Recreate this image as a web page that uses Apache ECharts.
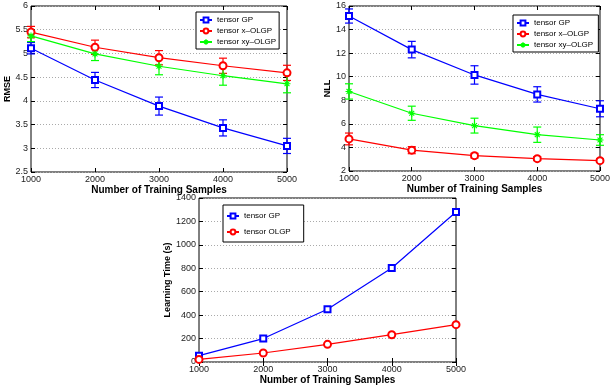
<!DOCTYPE html>
<html><head><meta charset="utf-8">
<script src="https://cdn.jsdelivr.net/npm/echarts@6/dist/echarts.min.js"></script>
<style>html,body{margin:0;padding:0;background:#fff}#c{width:613px;height:388px}</style>
</head><body><div id="c"></div><script>
const samples=[1000,2000,3000,4000,5000];
const rmseGP=[5.11,4.44,3.89,3.43,3.05];
const rmseGPErr=[0.12,0.16,0.19,0.17,0.16];
const rmseX=[5.45,5.13,4.91,4.74,4.59];
const rmseXErr=[0.12,0.15,0.15,0.16,0.16];
const rmseXY=[5.37,4.99,4.73,4.53,4.36];
const rmseXYErr=[0.12,0.14,0.18,0.2,0.19];
const nllGP=[15.15,12.3,10.15,8.5,7.28];
const nllGPErr=[0.6,0.7,0.78,0.65,0.68];
const nllX=[4.72,3.77,3.3,3.05,2.88];
const nllXErr=[0.5,0.3,0.2,0.17,0.15];
const nllXY=[8.75,6.9,5.85,5.08,4.63];
const nllXYErr=[0.65,0.6,0.63,0.65,0.45];
const timeGP=[54,200,450,802,1280];
const timeOLGP=[22,77,151,233,319];

const FONT='"Liberation Sans",Arial,Helvetica,sans-serif';
const BLUE='#0000ff', RED='#ff0000', GREEN='#00ff00';

function errRender(params, api){
  const x=api.value(0);
  const lo=api.coord([x, api.value(1)]), hi=api.coord([x, api.value(2)]);
  const w=4;
  const st={stroke: api.visual('color'), lineWidth:1.2, fill:null};
  return {type:'group', children:[
    {type:'line', shape:{x1:lo[0],y1:lo[1],x2:hi[0],y2:hi[1]}, style:st},
    {type:'line', shape:{x1:lo[0]-w,y1:lo[1],x2:lo[0]+w,y2:lo[1]}, style:st},
    {type:'line', shape:{x1:hi[0]-w,y1:hi[1],x2:hi[0]+w,y2:hi[1]}, style:st}]};
}
function errSeries(g, vals, errs, color){
  return {type:'custom', xAxisIndex:2*g, yAxisIndex:2*g, renderItem:errRender, clip:false,
    itemStyle:{color:color}, silent:true, z:3,
    encode:{x:0,y:[1,2]},
    data:samples.map((s,i)=>[s, vals[i]-errs[i], vals[i]+errs[i]])};
}
const STAR='path://M0,-10L0,10M-10,0L10,0M-7,-7L7,7M-7,7L7,-7';
function lineSeries(g, name, vals, color, symbol, size){
  return {type:'line', name:name, xAxisIndex:2*g, yAxisIndex:2*g, symbol:symbol, symbolSize:size,
    showAllSymbol:true, clip:false, z:4,
    lineStyle:{color:color, width:1.2}, itemStyle:{color:color, borderColor:color, borderWidth:1.1},
    emphasis:{disabled:true},
    data:samples.map((s,i)=>[s, vals[i]])};
}
const grids=[
  {left:31, top:6, width:256, height:166},
  {left:349, top:6, width:258, height:165},
  {left:199, top:198, width:257, height:164}
].map(g=>Object.assign(g,{show:true, borderColor:'#000', borderWidth:1, backgroundColor:'#fff'}));

const tickLabel={fontFamily:FONT, fontSize:9, color:'#222', margin:3, formatter:v=>String(v)};
const nameStyle={fontFamily:FONT, fontSize:10, fontWeight:'bold', color:'#000'};
const yNameStyle={fontFamily:FONT, fontSize:9, fontWeight:'bold', color:'#000'};
const xNameGaps=[8,9,11];
const xAxes=[], yAxes=[];
const yCfg=[
  {min:2.5,max:6,interval:0.5,name:'RMSE',gap:16},
  {min:2,max:16,interval:2,name:'NLL',gap:12},
  {min:0,max:1400,interval:200,name:'Learning Time (s)',gap:21}
];
for(let g=0; g<3; g++){
  xAxes.push({type:'value', gridIndex:g, min:1000, max:5000, interval:1000, position:'bottom',
    axisLine:{show:false}, axisTick:{inside:true, length:4, lineStyle:{color:'#000'}},
    axisLabel:Object.assign({}, tickLabel), splitLine:{show:false},
    name:'Number of Training Samples', nameLocation:'middle', nameGap:xNameGaps[g], nameTextStyle:nameStyle});
  xAxes.push({type:'value', gridIndex:g, min:1000, max:5000, interval:1000, position:'top',
    axisLine:{show:false}, axisTick:{inside:true, length:4, lineStyle:{color:'#000'}},
    axisLabel:{show:false}, splitLine:{show:false}});
  const c=yCfg[g];
  yAxes.push({type:'value', gridIndex:g, min:c.min, max:c.max, interval:c.interval, position:'left',
    axisLine:{show:false}, axisTick:{inside:true, length:4, lineStyle:{color:'#000'}},
    axisLabel:Object.assign({}, tickLabel),
    splitLine:{show:true, lineStyle:{color:'#aaa', type:[1,2], width:1}},
    name:c.name, nameLocation:'middle', nameGap:c.gap, nameTextStyle:yNameStyle});
  yAxes.push({type:'value', gridIndex:g, min:c.min, max:c.max, interval:c.interval, position:'right',
    axisLine:{show:false}, axisTick:{inside:true, length:4, lineStyle:{color:'#000'}},
    axisLabel:{show:false}, splitLine:{show:false}});
}
const legendBase={orient:'vertical', backgroundColor:'#fff', borderColor:'#000', borderWidth:1,
  itemWidth:12, itemHeight:6, selectedMode:false,
  textStyle:{fontFamily:FONT, fontSize:8, lineHeight:10, color:'#000'}};
const option={
  animation:false,
  grid:grids,
  xAxis:xAxes, yAxis:yAxes,
  legend:[
    Object.assign({}, legendBase, {left:196, top:12, padding:[3,3,2,3], itemGap:1,
      data:['tensor GP','tensor x–OLGP','tensor xy–OLGP']}),
    Object.assign({}, legendBase, {left:513, top:15, padding:[3,3,2,3], itemGap:1,
      data:['tensor GP ','tensor x–OLGP ','tensor xy–OLGP ']}),
    Object.assign({}, legendBase, {left:223, top:205, padding:[6,13,5,3], itemGap:6,
      data:['tensor GP  ','tensor OLGP']})
  ],
  series:[
    errSeries(0, rmseGP, rmseGPErr, BLUE),
    errSeries(0, rmseX, rmseXErr, RED),
    errSeries(0, rmseXY, rmseXYErr, GREEN),
    lineSeries(0,'tensor GP', rmseGP, BLUE, 'emptyRect', 6),
    lineSeries(0,'tensor x–OLGP', rmseX, RED, 'emptyCircle', 7),
    lineSeries(0,'tensor xy–OLGP', rmseXY, GREEN, STAR, 7),
    errSeries(1, nllGP, nllGPErr, BLUE),
    errSeries(1, nllX, nllXErr, RED),
    errSeries(1, nllXY, nllXYErr, GREEN),
    lineSeries(1,'tensor GP ', nllGP, BLUE, 'emptyRect', 6),
    lineSeries(1,'tensor x–OLGP ', nllX, RED, 'emptyCircle', 7),
    lineSeries(1,'tensor xy–OLGP ', nllXY, GREEN, STAR, 7),
    lineSeries(2,'tensor GP  ', timeGP, BLUE, 'emptyRect', 6),
    lineSeries(2,'tensor OLGP', timeOLGP, RED, 'emptyCircle', 7)
  ]
};
const chart=echarts.init(document.getElementById('c'), null, {renderer:'canvas'});
chart.setOption(option);
</script></body></html>
